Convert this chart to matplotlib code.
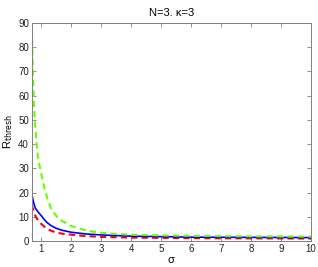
import matplotlib
matplotlib.use("Agg")
import matplotlib.pyplot as plt

sigma_g = [0.68, 0.72, 0.75, 0.78, 0.82, 0.87, 0.92, 0.97, 1.05, 1.11, 1.2, 1.33, 1.5, 1.67,
           2.0, 2.33, 2.7, 3.1, 3.5, 4, 5, 6, 7, 8, 9, 10]
green = [88, 68, 57, 50, 43, 36, 32, 29.5, 24.5, 21.5, 17.5, 13.2, 10.3, 8.4,
         6.2, 4.9, 3.9, 3.3, 2.9, 2.6, 2.3, 2.1, 2.0, 1.9, 1.85, 1.8]

sigma_br = [0.68, 0.72, 0.76, 0.8, 0.9, 1.0, 1.1, 1.2, 1.33, 1.5, 1.7, 2.0, 2.5, 3, 4, 5, 6, 7, 8, 9, 10]
blue = [19.5, 17, 15, 13.5, 11.8, 10.4, 8.8, 7.5, 6.3, 5.2, 4.4, 3.6, 2.9, 2.5, 2.0, 1.8, 1.6, 1.55, 1.5, 1.45, 1.4]
red = [15, 13, 11.5, 10.3, 8.3, 7.0, 5.9, 5.0, 4.2, 3.5, 3.0, 2.6, 2.0, 1.7, 1.4, 1.3, 1.2, 1.1, 1.1, 1.05, 1.0]

xticks = [1, 2, 3, 4, 5, 6, 7, 8, 9, 10]
yticks = [0, 10, 20, 30, 40, 50, 60, 70, 80, 90]

plt.rcParams['font.family'] = ['Liberation Sans', 'DejaVu Sans']
fig = plt.figure(figsize=(3.18, 2.67), dpi=100)
ax = fig.add_axes([0.1, 0.0974, 0.878, 0.8166])

ax.plot(sigma_br, red, color='#ff0000', linestyle=(0, (3, 2)), linewidth=1.5)
ax.plot(sigma_br, blue, color='#0000ff', linestyle='-', linewidth=1.2)
ax.plot(sigma_g, green, color='#66ff00', linestyle=(0, (3, 2)), linewidth=1.5)

ax.set_xlim(0.68, 10)
ax.set_ylim(0, 90)
ax.set_xticks(xticks)
ax.set_yticks(yticks)
ax.tick_params(direction='in', length=3, labelsize=7, width=0.6, top=True, right=True,
               pad=2, color='#808080', labelcolor='#222222')
for s in ax.spines.values():
    s.set_linewidth(0.7)
    s.set_color('#808080')
ax.set_title('N=3. \u03ba=3', fontsize=8, pad=5)
ax.set_xlabel('\u03c3', fontsize=8, labelpad=1)
ax.set_ylabel(r'R$_{\rm thresh}$', fontsize=8, labelpad=2)

fig.savefig('out.png', dpi=100)
